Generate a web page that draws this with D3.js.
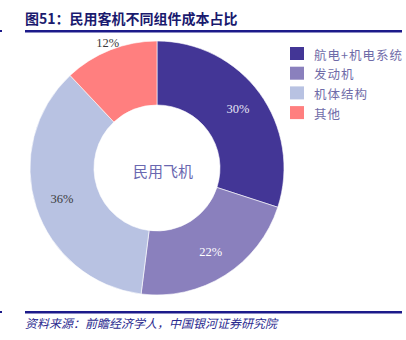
<!DOCTYPE html>
<html>
<head>
<meta charset="utf-8">
<script src="https://cdn.jsdelivr.net/npm/d3@7"></script>
<style>
  html, body { margin: 0; padding: 0; background: #fff; }
  svg { display: block; }
</style>
</head>
<body>
<svg id="chart" width="406" height="340"></svg>
<script>
// Cost share of civil aircraft components
const categories = ["航电+机电系统", "发动机", "机体结构", "其他"];
const shares = [30, 22, 36, 12];
const sliceColors = ["#433696", "#8a80bd", "#b8c2e2", "#ff7f7f"];
const labelColors = ["#e8e6f5", "#ffffff", "#3a3a3a", "#3a3a3a"];

const svg = d3.select("#chart");
const navy = "#1c1a8a";

// Title and top rule
svg.append("text")
  .attr("x", 25).attr("y", 24)
  .attr("font-family", "'Noto Sans CJK SC', sans-serif")
  .attr("font-weight", "bold")
  .attr("font-size", 14)
  .attr("fill", "#1a1a6e")
  .text("图51：民用客机不同组件成本占比");
svg.append("rect").attr("x", 25).attr("y", 30).attr("width", 377).attr("height", 2.5).attr("fill", navy);
svg.append("rect").attr("x", 0).attr("y", 30).attr("width", 2).attr("height", 2).attr("fill", navy);

// Bottom rule and source note
svg.append("rect").attr("x", 25).attr("y", 311).attr("width", 377).attr("height", 2.5).attr("fill", navy);
svg.append("rect").attr("x", 0).attr("y", 311).attr("width", 2).attr("height", 2).attr("fill", navy);
svg.append("text")
  .attr("x", 25).attr("y", 328)
  .attr("font-family", "'Noto Sans CJK SC', sans-serif")
  .attr("font-style", "italic")
  .attr("font-size", 12)
  .attr("fill", "#2b2a8f")
  .text("资料来源：前瞻经济学人，中国银河证券研究院");

// Donut
const cx = 157, cy = 168, outerR = 127, innerR = 63;
const g = svg.append("g").attr("transform", `translate(${cx},${cy})`);
const pie = d3.pie().sort(null).value(d => d.value);
const data = categories.map((c, i) => ({ name: c, value: shares[i], color: sliceColors[i], label: labelColors[i] }));
const arcs = pie(data);
const arc = d3.arc().innerRadius(innerR).outerRadius(outerR);

g.selectAll("path.slice")
  .data(arcs)
  .join("path")
  .attr("class", "slice")
  .attr("d", arc)
  .attr("fill", d => d.data.color)
  .attr("stroke", "#ffffff")
  .attr("stroke-width", 0.6);

// Value labels: inside the ring, the small slice sits just outside it
const insideArc = d3.arc().innerRadius(100).outerRadius(100);
const outsideArc = d3.arc().innerRadius(134).outerRadius(134);
g.selectAll("text.value")
  .data(arcs)
  .join("text")
  .attr("class", "value")
  .attr("transform", d => `translate(${(d.data.value < 15 ? outsideArc : insideArc).centroid(d)})`)
  .attr("text-anchor", "middle")
  .attr("dominant-baseline", "central")
  .attr("font-family", "'Liberation Serif', serif")
  .attr("font-size", 12.5)
  .attr("fill", d => d.data.label)
  .text(d => d.data.value + "%");

// Centre caption
g.append("text")
  .attr("x", 6).attr("y", 2)
  .attr("text-anchor", "middle")
  .attr("dominant-baseline", "central")
  .attr("font-family", "'Noto Sans CJK SC', sans-serif")
  .attr("font-size", 15)
  .attr("fill", "#6a68b0")
  .text("民用飞机");

// Legend
const legend = svg.append("g").attr("transform", "translate(290,47)");
const rows = legend.selectAll("g.row")
  .data(data)
  .join("g")
  .attr("class", "row")
  .attr("transform", (d, i) => `translate(0,${i * 19.7})`);
rows.append("rect")
  .attr("width", 14).attr("height", 13)
  .attr("fill", d => d.color);
rows.append("text")
  .attr("x", 24).attr("y", 7)
  .attr("dominant-baseline", "central")
  .attr("font-family", "'Noto Sans CJK SC', sans-serif")
  .attr("font-size", 12.5)
  .attr("letter-spacing", 1)
  .attr("fill", "#6f6ba8")
  .text(d => d.name);
</script>
</body>
</html>
